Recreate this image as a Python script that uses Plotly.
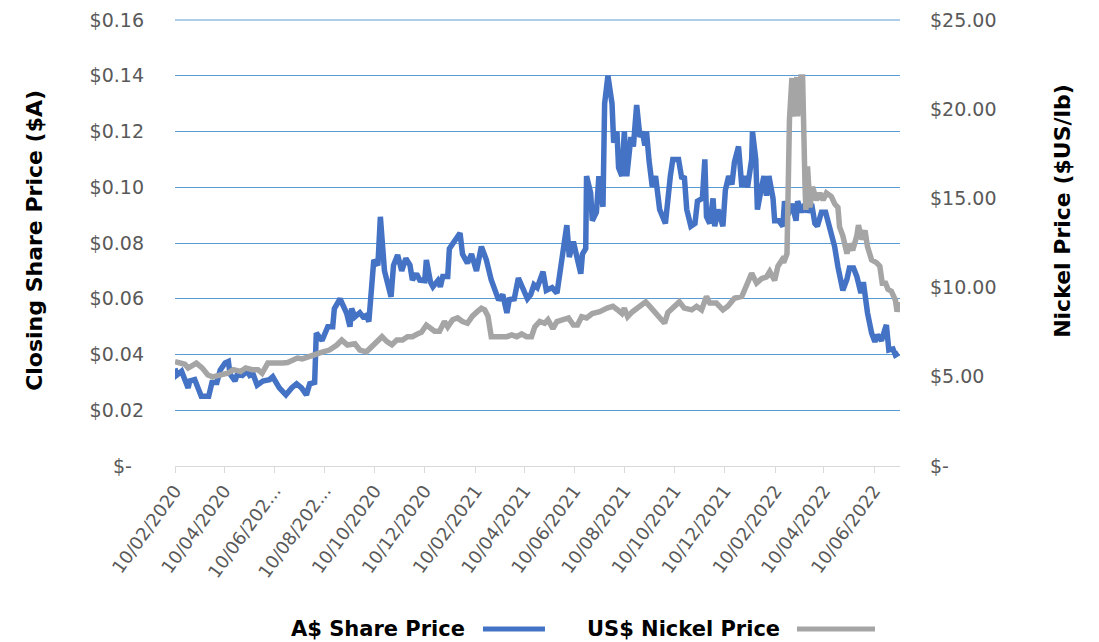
import plotly.graph_objects as go

# ---------------- data ----------------
share_dates = [
    "2020-02-10", "2020-02-12", "2020-02-18", "2020-02-26", "2020-02-28", "2020-03-05", "2020-03-13",
    "2020-03-22", "2020-03-26", "2020-04-01", "2020-04-05", "2020-04-11", "2020-04-15", "2020-04-17",
    "2020-04-23", "2020-04-26", "2020-05-02", "2020-05-08", "2020-05-11", "2020-05-15", "2020-05-20",
    "2020-05-27", "2020-06-04", "2020-06-08", "2020-06-16", "2020-06-24", "2020-07-01", "2020-07-07",
    "2020-07-13", "2020-07-19", "2020-07-23", "2020-07-29", "2020-07-31", "2020-08-07", "2020-08-14",
    "2020-08-20", "2020-08-22", "2020-08-29", "2020-09-01", "2020-09-06", "2020-09-10", "2020-09-12",
    "2020-09-16", "2020-09-22", "2020-09-26", "2020-09-30", "2020-10-03", "2020-10-06", "2020-10-09",
    "2020-10-14", "2020-10-17", "2020-10-22", "2020-10-25", "2020-10-30", "2020-11-02", "2020-11-07",
    "2020-11-12", "2020-11-17", "2020-11-22", "2020-11-25", "2020-11-30", "2020-12-04", "2020-12-10",
    "2020-12-12", "2020-12-17", "2020-12-20", "2020-12-26", "2020-12-29", "2021-01-01", "2021-01-07",
    "2021-01-09", "2021-01-15", "2021-01-22", "2021-01-25", "2021-01-31", "2021-02-05", "2021-02-11",
    "2021-02-17", "2021-02-21", "2021-02-23", "2021-03-01", "2021-03-06", "2021-03-10", "2021-03-15",
    "2021-03-20", "2021-03-23", "2021-03-29", "2021-04-03", "2021-04-08", "2021-04-14", "2021-04-18",
    "2021-04-22", "2021-04-26", "2021-05-03", "2021-05-07", "2021-05-14", "2021-05-20", "2021-05-26",
    "2021-06-01", "2021-06-04", "2021-06-09", "2021-06-14", "2021-06-18", "2021-06-20", "2021-06-24",
    "2021-06-25", "2021-06-30", "2021-07-02", "2021-07-07", "2021-07-10", "2021-07-15", "2021-07-17",
    "2021-07-21", "2021-07-26", "2021-07-28", "2021-08-01", "2021-08-03", "2021-08-07", "2021-08-10",
    "2021-08-13", "2021-08-18", "2021-08-21", "2021-08-25", "2021-08-29", "2021-09-01", "2021-09-04",
    "2021-09-06", "2021-09-09", "2021-09-13", "2021-09-17", "2021-09-22", "2021-09-29", "2021-10-02",
    "2021-10-05", "2021-10-08", "2021-10-15", "2021-10-19", "2021-10-22", "2021-10-25", "2021-10-30",
    "2021-11-04", "2021-11-07", "2021-11-13", "2021-11-16", "2021-11-18", "2021-11-22", "2021-11-26",
    "2021-11-28", "2021-12-02", "2021-12-08", "2021-12-11", "2021-12-15", "2021-12-19", "2021-12-22",
    "2021-12-27", "2021-12-31", "2022-01-03", "2022-01-07", "2022-01-12", "2022-01-13", "2022-01-17",
    "2022-01-19", "2022-01-24", "2022-01-27", "2022-01-30", "2022-02-02", "2022-02-07", "2022-02-09",
    "2022-02-14", "2022-02-19", "2022-02-21", "2022-02-25", "2022-03-02", "2022-03-07", "2022-03-09",
    "2022-03-14", "2022-03-18", "2022-03-21", "2022-03-26", "2022-03-30", "2022-04-02", "2022-04-07",
    "2022-04-12", "2022-04-19", "2022-04-23", "2022-04-27", "2022-05-03", "2022-05-08", "2022-05-11",
    "2022-05-16", "2022-05-20", "2022-05-25", "2022-05-28", "2022-06-02", "2022-06-07", "2022-06-11",
    "2022-06-14", "2022-06-19", "2022-06-25", "2022-06-28", "2022-07-03", "2022-07-06", "2022-07-10",
]
share_price = [
    0.035, 0.0326, 0.034, 0.028, 0.0305, 0.031, 0.025,
    0.025, 0.030, 0.030, 0.0344, 0.037, 0.0375, 0.033,
    0.0305, 0.033, 0.0325, 0.034, 0.0325, 0.033, 0.029,
    0.0305, 0.031, 0.032, 0.028, 0.0255, 0.028, 0.0295,
    0.028, 0.0255, 0.0295, 0.030, 0.0477, 0.045, 0.050,
    0.050, 0.0565, 0.060, 0.058, 0.0548, 0.050, 0.0565,
    0.0535, 0.055, 0.0535, 0.054, 0.0518, 0.063, 0.0739,
    0.072, 0.0894, 0.070, 0.066, 0.0607, 0.072, 0.0757,
    0.070, 0.0745, 0.0721, 0.0667, 0.069, 0.0667, 0.0665,
    0.0739, 0.066, 0.0643, 0.0665, 0.0643, 0.068, 0.068,
    0.078, 0.081, 0.0836, 0.076, 0.0728, 0.076, 0.070,
    0.0787, 0.076, 0.074, 0.0667, 0.063, 0.0595, 0.0615,
    0.0549, 0.0597, 0.060, 0.0674, 0.0635, 0.060, 0.0615,
    0.065, 0.064, 0.0697, 0.063, 0.064, 0.062, 0.0739,
    0.0864, 0.075, 0.0805, 0.074, 0.069, 0.076, 0.078,
    0.104, 0.098, 0.088, 0.091, 0.104, 0.093, 0.130,
    0.140, 0.130, 0.116, 0.120, 0.107, 0.104, 0.120,
    0.104, 0.118, 0.1146, 0.1295, 0.118, 0.120, 0.115,
    0.120, 0.1098, 0.1002, 0.104, 0.092, 0.087, 0.097,
    0.104, 0.110, 0.110, 0.103, 0.104, 0.092, 0.086,
    0.087, 0.095, 0.096, 0.110, 0.0895, 0.087, 0.096,
    0.086, 0.092, 0.086, 0.099, 0.104, 0.101, 0.109,
    0.1146, 0.1002, 0.104, 0.100, 0.110, 0.120, 0.110,
    0.092, 0.100, 0.104, 0.097, 0.104, 0.096, 0.088,
    0.088, 0.086, 0.095, 0.090, 0.094, 0.088, 0.095,
    0.091, 0.094, 0.091, 0.094, 0.087, 0.086, 0.091,
    0.091, 0.0836, 0.0787, 0.0715, 0.063, 0.067, 0.071,
    0.071, 0.068, 0.062, 0.066, 0.055, 0.0477, 0.0446,
    0.047, 0.045, 0.0506, 0.0416, 0.042, 0.0398, 0.0405,
]

nickel_dates = [
    "2020-02-10", "2020-02-22", "2020-02-26", "2020-03-07", "2020-03-14", "2020-03-21", "2020-03-27",
    "2020-04-05", "2020-04-14", "2020-04-21", "2020-04-30", "2020-05-06", "2020-05-14", "2020-05-21",
    "2020-05-26", "2020-06-02", "2020-06-08", "2020-06-14", "2020-06-20", "2020-06-26", "2020-07-02",
    "2020-07-08", "2020-07-14", "2020-07-23", "2020-07-31", "2020-08-08", "2020-08-16", "2020-08-25",
    "2020-08-31", "2020-09-07", "2020-09-16", "2020-09-22", "2020-09-30", "2020-10-04", "2020-10-12",
    "2020-10-19", "2020-10-25", "2020-10-31", "2020-11-06", "2020-11-13", "2020-11-19", "2020-11-25",
    "2020-12-01", "2020-12-06", "2020-12-12", "2020-12-18", "2020-12-22", "2020-12-28", "2021-01-03",
    "2021-01-07", "2021-01-13", "2021-01-19", "2021-01-25", "2021-01-31", "2021-02-06", "2021-02-12",
    "2021-02-17", "2021-02-21", "2021-02-25", "2021-03-01", "2021-03-08", "2021-03-14", "2021-03-20",
    "2021-03-26", "2021-04-01", "2021-04-07", "2021-04-13", "2021-04-19", "2021-04-23", "2021-04-29",
    "2021-05-05", "2021-05-09", "2021-05-15", "2021-05-20", "2021-05-27", "2021-06-03", "2021-06-09",
    "2021-06-14", "2021-06-19", "2021-06-25", "2021-07-02", "2021-07-11", "2021-07-20", "2021-07-27",
    "2021-08-02", "2021-08-07", "2021-08-10", "2021-08-14", "2021-08-20", "2021-08-26", "2021-09-01",
    "2021-09-05", "2021-09-10", "2021-09-16", "2021-09-22", "2021-09-28", "2021-10-02", "2021-10-08",
    "2021-10-16", "2021-10-22", "2021-10-31", "2021-11-06", "2021-11-12", "2021-11-18", "2021-11-22",
    "2021-11-30", "2021-12-08", "2021-12-14", "2021-12-22", "2021-12-31", "2022-01-06", "2022-01-12",
    "2022-01-18", "2022-01-24", "2022-01-30", "2022-02-03", "2022-02-09", "2022-02-13", "2022-02-18",
    "2022-02-20", "2022-02-24", "2022-02-25", "2022-02-27", "2022-03-02", "2022-03-03", "2022-03-08",
    "2022-03-09", "2022-03-13", "2022-03-15", "2022-03-18", "2022-03-19", "2022-03-21", "2022-03-24",
    "2022-03-27", "2022-04-01", "2022-04-05", "2022-04-09", "2022-04-13", "2022-04-19", "2022-04-23",
    "2022-04-27", "2022-04-29", "2022-05-03", "2022-05-08", "2022-05-11", "2022-05-15", "2022-05-20",
    "2022-05-22", "2022-05-26", "2022-05-30", "2022-06-02", "2022-06-07", "2022-06-13", "2022-06-17",
    "2022-06-20", "2022-06-24", "2022-06-27", "2022-07-01", "2022-07-06", "2022-07-08", "2022-07-10",
]
nickel_price = [
    5.85, 5.7, 5.49, 5.77, 5.5, 5.1, 5.0,
    5.1, 5.2, 5.4, 5.3, 5.5, 5.4, 5.4,
    5.2, 5.77, 5.77, 5.7, 5.77, 5.8, 5.94,
    6.05, 6.0, 6.16, 6.22, 6.4, 6.5, 6.78,
    7.06, 6.78, 6.85, 6.5, 6.4, 6.6, 6.97,
    7.25, 6.97, 6.8, 7.06, 7.06, 7.25, 7.25,
    7.4, 7.5, 7.9, 7.7, 7.55, 7.55, 8.1,
    7.8, 8.2, 8.3, 8.1, 8.0, 8.4, 8.65,
    8.84, 8.75, 8.4, 7.25, 7.25, 7.3, 7.25,
    7.35, 7.25, 7.4, 7.25, 7.25, 7.8, 8.1,
    8.0, 8.2, 7.7, 8.1, 8.2, 8.3, 7.9,
    7.9, 8.37, 8.3, 8.55, 8.65, 8.85, 8.95,
    8.75, 8.55, 8.85, 8.37, 8.65, 8.85, 9.0,
    9.2, 8.95, 8.65, 8.37, 8.0, 8.6, 8.85,
    9.2, 8.85, 8.75, 8.95, 8.75, 9.5, 9.13,
    9.13, 8.75, 8.95, 9.4, 9.5, 10.25, 10.8,
    10.25, 10.5, 10.6, 10.9, 10.4, 11.2, 11.55,
    11.4, 11.9, 15.7, 19.4, 21.75, 19.6, 21.8,
    19.6, 21.8, 21.8, 15.65, 14.35, 16.8, 14.5,
    15.65, 14.9, 15.3, 14.9, 15.3, 15.1, 14.7,
    14.5, 13.4, 12.9, 11.9, 12.45, 12.1, 12.9,
    13.5, 12.7, 13.2, 12.3, 11.55, 11.4, 11.2,
    10.25, 10.25, 9.9, 9.8, 9.3, 8.65, 9.2,
]

x_tick_dates = [
    "2020-02-10", "2020-04-10", "2020-06-10", "2020-08-10", "2020-10-10", "2020-12-10",
    "2021-02-10", "2021-04-10", "2021-06-10", "2021-08-10", "2021-10-10", "2021-12-10",
    "2022-02-10", "2022-04-10", "2022-06-10",
]
x_tick_labels = [
    "10/02/2020", "10/04/2020", "10/06/202...", "10/08/202...", "10/10/2020", "10/12/2020",
    "10/02/2021", "10/04/2021", "10/06/2021", "10/08/2021", "10/10/2021", "10/12/2021",
    "10/02/2022", "10/04/2022", "10/06/2022",
]
left_tick_vals = [0, 0.02, 0.04, 0.06, 0.08, 0.10, 0.12, 0.14, 0.16]
left_tick_text = ["$-\u00a0\u00a0", "$0.02", "$0.04", "$0.06", "$0.08", "$0.10", "$0.12", "$0.14", "$0.16"]
right_tick_vals = [0, 5, 10, 15, 20, 25]
right_tick_text = ["$-", "$5.00", "$10.00", "$15.00", "$20.00", "$25.00"]

# ---------------- styling ----------------
BLUE = "#4472c4"
GRAY = "#a5a5a5"
GRID = "#5b9bd5"
TICKCOL = "#595959"
TICKFONT = dict(family="DejaVu Sans", size=19, color=TICKCOL)

fig = go.Figure()
fig.add_trace(go.Scatter(
    x=share_dates, y=share_price, mode="lines", name="A$ Share Price",
    line=dict(color=BLUE, width=5.5), yaxis="y", showlegend=False,
))
fig.add_trace(go.Scatter(
    x=nickel_dates, y=nickel_price, mode="lines", name="US$ Nickel Price",
    line=dict(color=GRAY, width=5.5), yaxis="y2", showlegend=False,
))

# the page body adds an 8px offset, so the figure is 8px smaller and margins shifted
fig.update_layout(
    width=1091, height=634,
    margin=dict(l=167, r=199, t=12, b=176, autoexpand=False),
    paper_bgcolor="white", plot_bgcolor="white",
    xaxis=dict(
        type="date", automargin=False,
        range=["2020-02-10", "2022-07-11 14:00"],
        tickmode="array", tickvals=x_tick_dates, ticktext=x_tick_labels,
        tickangle=-54, tickfont=dict(family="DejaVu Sans", size=18, color=TICKCOL),
        showgrid=False, zeroline=False,
        showline=True, linecolor="#d9d9d9", linewidth=1,
        ticks="outside", ticklen=6, tickcolor="#d9d9d9", tickwidth=1,
    ),
    yaxis=dict(
        range=[0, 0.16], automargin=False,
        tickmode="array", tickvals=left_tick_vals, ticktext=left_tick_text,
        tickfont=TICKFONT, showgrid=True, gridcolor=GRID, gridwidth=1,
        zeroline=False, showline=False, ticks="", ticklabelstandoff=30,
    ),
    yaxis2=dict(
        range=[0, 25], overlaying="y", side="right", automargin=False,
        tickmode="array", tickvals=right_tick_vals, ticktext=right_tick_text,
        tickfont=TICKFONT, showgrid=False, zeroline=False, showline=False,
        ticks="", ticklabelstandoff=29,
    ),
)

# top gridline at the upper edge of the plot (plotly clips grid lines at the very edge)
fig.add_shape(type="line", xref="paper", yref="paper", x0=0, x1=1, y0=1, y1=1,
              line=dict(color=GRID, width=1), layer="below")

title_font = dict(family="DejaVu Sans", size=22, color="black")
legend_font = dict(family="DejaVu Sans", size=21, color="black")

fig.add_annotation(
    text="<b>Closing Share Price ($A)</b>", xref="paper", yref="paper",
    x=-0.193, y=0.505, textangle=-90, showarrow=False, font=title_font,
    xanchor="center", yanchor="middle",
)
fig.add_annotation(
    text="<b>Nickel Price ($US/lb)</b>", xref="paper", yref="paper",
    x=1.2248, y=0.572, textangle=-90, showarrow=False, font=title_font,
    xanchor="center", yanchor="middle",
)

# custom legend (text followed by line sample, as in the reference)
fig.add_annotation(
    text="<b>A$ Share Price</b>", xref="paper", yref="paper",
    x=0.4028, y=-0.3655, xanchor="right", yanchor="middle", showarrow=False, font=legend_font,
)
fig.add_shape(type="line", xref="paper", yref="paper", x0=0.4248, x1=0.5103,
              y0=-0.3655, y1=-0.3655, line=dict(color=BLUE, width=5))
fig.add_annotation(
    text="<b>US$ Nickel Price</b>", xref="paper", yref="paper",
    x=0.8372, y=-0.3655, xanchor="right", yanchor="middle", showarrow=False, font=legend_font,
)
fig.add_shape(type="line", xref="paper", yref="paper", x0=0.8579, x1=0.9655,
              y0=-0.3655, y1=-0.3655, line=dict(color=GRAY, width=5))

fig.write_html("out.html")
